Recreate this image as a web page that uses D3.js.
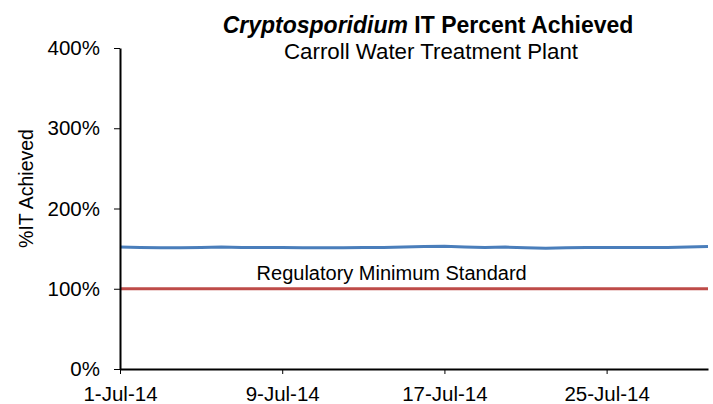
<!DOCTYPE html>
<html>
<head>
<meta charset="utf-8">
<script src="https://cdn.jsdelivr.net/npm/d3@7"></script>
<style>
  body { margin: 0; background: #fff; }
  svg { display: block; font-family: "Liberation Sans", Arial, sans-serif; }
</style>
</head>
<body>
<svg id="chart" width="713" height="404"></svg>
<script>
// data
let dates = ["2014-07-01","2014-07-02","2014-07-03","2014-07-04","2014-07-05","2014-07-06",
  "2014-07-07","2014-07-08","2014-07-09","2014-07-10","2014-07-11","2014-07-12","2014-07-13",
  "2014-07-14","2014-07-15","2014-07-16","2014-07-17","2014-07-18","2014-07-19","2014-07-20",
  "2014-07-21","2014-07-22","2014-07-23","2014-07-24","2014-07-25","2014-07-26","2014-07-27",
  "2014-07-28","2014-07-29","2014-07-30"];
let itAchieved = [152, 151.5, 151, 151, 151.5, 152, 151.5, 151.5, 151.5, 151, 151, 151, 151.5,
  151.5, 152, 152.5, 153, 152, 151.5, 152, 151, 150.5, 151, 151.5, 151.5, 151.5, 151.5,
  151.5, 152, 152.5];
let regulatoryMin = dates.map(() => 100);
let yTicks = [0, 100, 200, 300, 400];
let xTicks = ["2014-07-01", "2014-07-09", "2014-07-17", "2014-07-25"];

let parse = d3.timeParse("%Y-%m-%d");
let fmt = d3.timeFormat("%-d-%b-%y");

let svg = d3.select("#chart"),
    margin = {top: 48, right: 5, bottom: 35, left: 120},
    width = +svg.attr("width") - margin.left - margin.right,
    height = +svg.attr("height") - margin.top - margin.bottom;

let g = svg.append("g")
  .attr("transform", "translate(" + margin.left + "," + margin.top + ")");

let x = d3.scaleTime()
  .domain([parse(dates[0]), parse(dates[dates.length - 1])])
  .range([0, width]);
let y = d3.scaleLinear().domain([0, 400]).range([height, 0]);

let line = d3.line()
  .x(d => x(d.date))
  .y(d => y(d.value));

let blue = dates.map((d, i) => ({date: parse(d), value: itAchieved[i]}));
let red = dates.map((d, i) => ({date: parse(d), value: regulatoryMin[i]}));

g.append("path").datum(red)
  .attr("fill", "none").attr("stroke", "#be4b48").attr("stroke-width", 3)
  .attr("d", line);
g.append("path").datum(blue)
  .attr("fill", "none").attr("stroke", "#4a7ebb").attr("stroke-width", 3)
  .attr("d", line);

// axes
let yAxis = g.append("g")
  .call(d3.axisLeft(y).tickValues(yTicks).tickFormat(d => d + "%")
    .tickSize(6).tickSizeOuter(0).tickPadding(14));
let xAxis = g.append("g")
  .attr("transform", "translate(0," + height + ")")
  .call(d3.axisBottom(x).tickValues(xTicks.map(parse)).tickFormat(fmt)
    .tickSize(5).tickSizeOuter(0).tickPadding(12));

[yAxis, xAxis].forEach(a => {
  a.select(".domain").attr("stroke", "#000").attr("stroke-width", 2);
  a.selectAll(".tick line").attr("stroke", "#000");
  a.selectAll(".tick text")
    .attr("fill", "#000")
    .style("font-size", "20.5px")
    .style("font-family", "'Liberation Sans', Arial, sans-serif");
});

// axis title
svg.append("text")
  .attr("transform", "translate(33," + (margin.top + height / 2 - 20) + ") rotate(-90)")
  .attr("text-anchor", "middle")
  .style("font-size", "19.5px")
  .text("%IT Achieved");

// annotation above red line
g.append("text")
  .attr("x", width * 0.462)
  .attr("y", y(100) - 9)
  .attr("text-anchor", "middle")
  .style("font-size", "20px")
  .text("Regulatory Minimum Standard");

// titles
let title = svg.append("text")
  .attr("x", 428).attr("y", 33)
  .attr("text-anchor", "middle")
  .style("font-size", "23px")
  .style("font-weight", "bold");
title.append("tspan").style("font-style", "italic").text("Cryptosporidium");
title.append("tspan").text(" IT Percent Achieved");

svg.append("text")
  .attr("x", 431).attr("y", 59)
  .attr("text-anchor", "middle")
  .style("font-size", "22.3px")
  .text("Carroll Water Treatment Plant");
</script>
</body>
</html>
